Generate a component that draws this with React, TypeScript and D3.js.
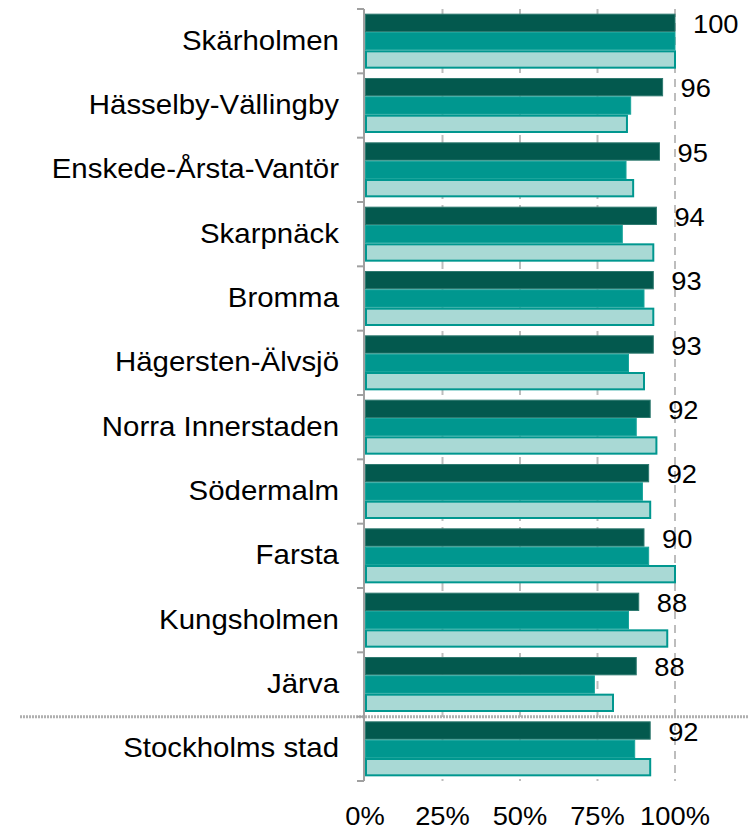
import React from "react";
import * as d3 from "d3";

const categories = [
  "Skärholmen",
  "Hässelby-Vällingby",
  "Enskede-Årsta-Vantör",
  "Skarpnäck",
  "Bromma",
  "Hägersten-Älvsjö",
  "Norra Innerstaden",
  "Södermalm",
  "Farsta",
  "Kungsholmen",
  "Järva",
  "Stockholms stad",
];
const seriesA = [100, 96, 95, 94, 93, 93, 92, 91.5, 90, 88.3, 87.5, 92];
const seriesB = [100, 85.7, 84.2, 83, 90, 85, 87.5, 89.5, 91.5, 85, 74, 87];
const seriesC = [100, 84.5, 86.5, 93, 93, 90, 94, 92, 100, 97.5, 80, 92];
const valueLabels = ["100", "96", "95", "94", "93", "93", "92", "92", "90", "88", "88", "92"];
const xTicks = [0, 25, 50, 75, 100];
const seriesKeys = ["a", "b", "c"];

const W = 749;
const H = 830;

export default function App() {
  const x = d3.scaleLinear().domain([0, 100]).range([365, 675]);
  const y = d3
    .scaleBand<string>()
    .domain(categories)
    .range([9, 781])
    .paddingInner(0.145)
    .paddingOuter(0.0725);
  const ys = d3.scaleBand<string>().domain(seriesKeys).range([0, y.bandwidth()]);
  const values = [seriesA, seriesB, seriesC];
  const fills = ["#03594e", "#00978f", "#a9d9d5"];
  const strokes = ["#2f7a70", "#1aa59c", "#00978f"];
  const strokeW = [1, 1, 2];
  const font = "'Liberation Sans', Arial, sans-serif";
  const step = y.step();
  const bandStart = (c: string) => (y(c) as number) - (step - y.bandwidth()) / 2;
  const boundaries = categories.map((c) => bandStart(c)).concat([bandStart(categories[categories.length - 1]) + step]);
  const sepY = bandStart("Stockholms stad");

  return (
    <svg
      width={W}
      height={H}
      style={{ position: "absolute", left: 0, top: 0, display: "block", background: "#fff" }}
    >
      {/* gridlines */}
      {xTicks.slice(1).map((t) => (
        <line
          key={"g" + t}
          x1={x(t)}
          x2={x(t)}
          y1={9}
          y2={781}
          stroke="#bdbdbd"
          strokeWidth={2}
          strokeDasharray="8,6"
        />
      ))}
      {/* bars */}
      {categories.map((c, i) => (
        <g key={c}>
          {seriesKeys.map((k, j) => (
            <rect
              key={k}
              x={x(0) + strokeW[j] / 2}
              y={(y(c) as number) + (ys(k) as number) + strokeW[j] / 2}
              width={Math.max(0, x(values[j][i]) - x(0) - strokeW[j] / 2)}
              height={ys.bandwidth() - strokeW[j]}
              fill={fills[j]}
              stroke={strokes[j]}
              strokeWidth={strokeW[j]}
            />
          ))}
        </g>
      ))}
      {/* separator */}
      <line
        x1={20}
        x2={749}
        y1={sepY}
        y2={sepY}
        stroke="#b0b0b0"
        strokeWidth={3}
        strokeDasharray="2,1"
      />
      {/* y axis */}
      <line x1={364} x2={364} y1={boundaries[0]} y2={boundaries[boundaries.length - 1]} stroke="#a0a0a0" strokeWidth={2} />
      {boundaries.map((b, i) => (
        <line key={"t" + i} x1={357} x2={364} y1={b} y2={b} stroke="#a0a0a0" strokeWidth={2} />
      ))}
      {/* category labels */}
      {categories.map((c) => (
        <text
          key={"l" + c}
          transform={`translate(339,${(y(c) as number) + y.bandwidth() / 2 + 8.5}) scale(1.09,1)`}
          textAnchor="end"
          fontFamily={font}
          fontSize={27}
          fill="#000"
        >
          {c}
        </text>
      ))}
      {/* value labels */}
      {categories.map((c, i) => (
        <text
          key={"v" + c}
          transform={`translate(${x(seriesA[i]) + 18},${(y(c) as number) + 19.5}) scale(1.05,1)`}
          textAnchor="start"
          fontFamily={font}
          fontSize={26}
          fill="#000"
        >
          {valueLabels[i]}
        </text>
      ))}
      {/* x axis labels */}
      {xTicks.map((t) => (
        <text
          key={"x" + t}
          transform={`translate(${x(t)},825) scale(1.05,1)`}
          textAnchor="middle"
          fontFamily={font}
          fontSize={26}
          fill="#000"
        >
          {t + "%"}
        </text>
      ))}
    </svg>
  );
}
